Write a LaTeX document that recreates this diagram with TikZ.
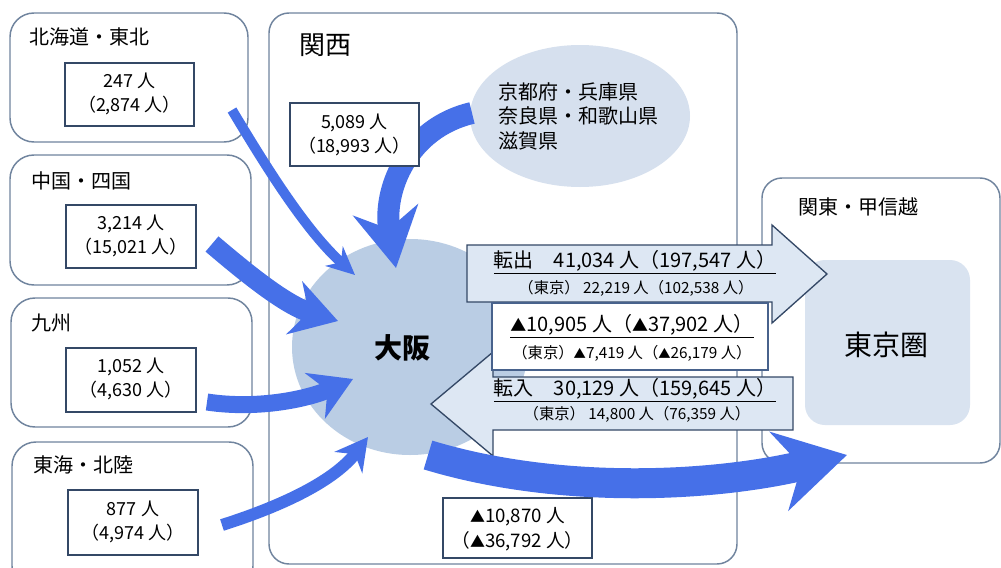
\documentclass[tikz,border=0pt]{standalone}
\usepackage{fontspec}
\setmainfont{Noto Sans CJK JP}
\usetikzlibrary{arrows.meta}

\definecolor{flowblue}{RGB}{70,112,232}
\definecolor{regionline}{RGB}{112,132,158}
\definecolor{boxline}{RGB}{52,72,102}
\definecolor{osakafill}{RGB}{186,205,228}
\definecolor{kyotofill}{RGB}{214,224,238}
\definecolor{tokyofill}{RGB}{217,227,240}
\definecolor{movefill}{RGB}{221,231,243}
\definecolor{netline}{RGB}{72,98,140}

\newcommand{\minusmark}{\scalebox{0.8}{▲}}

\tikzset{every picture/.style={line width=0.75pt}}
\tikzset{
  region/.style={draw=regionline, line width=1.1pt, fill=white, rounded corners=18pt},
  numbox/.style={draw=boxline, line width=1.5pt, fill=white},
  numtext/.style={inner sep=0.75pt, align=center, font=\fontsize{13.5}{18}\selectfont},
  labeltext/.style={anchor=west, inner sep=0.75pt, font=\fontsize{15}{18}\selectfont},
  flow/.style n args={3}{draw=flowblue, line width=#1, -{Stealth[length=#2, width=#3]}},
  movearrow/.style={draw=boxline, line width=1pt, fill=movefill},
  maintext/.style={inner sep=0.75pt, font=\fontsize{15}{18}\selectfont},
  subtext/.style={inner sep=0.75pt, font=\fontsize{11.5}{14}\selectfont},
}

\begin{document}
\begin{tikzpicture}[x=0.75pt,y=0.75pt,yscale=-1,xscale=1]
\path[use as bounding box] (0,0) rectangle (1001,568);

%Shape: Rounded Rect (regions)
\draw [region] (10,13) rectangle (248,142);
\draw [region] (10,155) rectangle (251,285);
\draw [region] (11,298) rectangle (252,427);
\draw [region] (12,442) rectangle (253,590);
\draw [region, rounded corners=15pt] (269,13) rectangle (737,564);
\draw [region, rounded corners=15pt] (762,178) rectangle (1000,463);

%Shape: Ellipse / blobs
\fill [kyotofill] (580,116) ellipse [x radius=110, y radius=71];
\fill [osakafill] (410,347) ellipse [x radius=118, y radius=108];
\fill [tokyofill, rounded corners=15pt] (805,260) rectangle (970,425);

%Named ends of the flows
\coordinate (hkout) at (232,110);
\coordinate (hkin) at (355,275);
\coordinate (csout) at (212,244);
\coordinate (csin) at (338,321);
\coordinate (kyout) at (207,402);
\coordinate (kyin) at (353,379);
\coordinate (tkout) at (222,525);
\coordinate (tkin) at (368,437);
\coordinate (ksout) at (472,113);
\coordinate (ksin) at (396,268);
\coordinate (osout) at (428,455);
\coordinate (tkyin) at (847,455);

%Curve Lines (flows into Osaka)
\draw [flow={7.5pt}{21pt}{19.5pt}] (hkout) .. controls (265,165) and (305,230) .. (hkin);
\draw [flow={15pt}{34pt}{41pt}] (csout) .. controls (245,272) and (285,305) .. (csin);
\draw [flow={12.75pt}{31pt}{37pt}] (kyout) .. controls (260,410) and (310,398) .. (kyin);
\draw [flow={9pt}{24pt}{26pt}] (tkout) .. controls (285,505) and (335,480) .. (tkin);
\draw [flow={16.5pt}{44pt}{49pt}] (ksout) .. controls (408,128) and (382,190) .. (ksin);

%Shape: Rectangle (number boxes)
\draw [numbox] (65,63) rectangle (194,126);
\draw [numbox] (66,205) rectangle (196,268);
\draw [numbox] (66,348) rectangle (196,412);
\draw [numbox] (68,490) rectangle (198,555);
\draw [numbox] (290,103) rectangle (419,166);
\draw [numbox] (443,498) rectangle (592,558);

%Shape: Left Arrow (in-moves)
\draw [movearrow] (793,377) -- (493,377) -- (493,352) -- (431,404) -- (493,456) -- (493,430) -- (793,430) -- cycle;
%Shape: Right Arrow (out-moves)
\draw [movearrow] (467,245) -- (772,245) -- (772,225) -- (827,274) -- (772,323) -- (772,302) -- (467,302) -- cycle;
%Shape: Rectangle (net)
\draw [draw=netline, line width=2pt, fill=white] (492,303) rectangle (768,370);

%Curve Lines (Osaka to Tokyo)
\draw [flow={22.5pt}{52pt}{60pt}] (osout) .. controls (560,495) and (713,487) .. (tkyin);

% Text Node
\draw (28,37) node (hklabel) [labeltext] {北海道・東北};
% Text Node
\draw (30,181) node (cslabel) [labeltext] {中国・四国};
% Text Node
\draw (30,323) node (kylabel) [labeltext] {九州};
% Text Node
\draw (32,465) node (tklabel) [labeltext] {東海・北陸};
% Text Node
\draw (298,45) node (kslabel) [labeltext, font=\fontsize{19.5}{22}\selectfont] {関西};
% Text Node
\draw (797,207) node (ktlabel) [labeltext] {関東・甲信越};
% Text Node
\draw (497,116) node (kyototext) [labeltext, align=left, font=\fontsize{15}{18.4}\selectfont] {京都府・兵庫県\\奈良県・和歌山県\\滋賀県};
% Text Node
\draw (402,348) node (osaka) [inner sep=0.75pt, font=\fontsize{21}{24}\selectfont\bfseries] {大阪};
% Text Node
\draw (886,345) node (tokyo) [inner sep=0.75pt, font=\fontsize{21}{24}\selectfont] {東京圏};

% Text Node
\draw (129.5,94) node (hknum) [numtext] {247 人\\（2,874 人）};
% Text Node
\draw (131,236) node (csnum) [numtext] {3,214 人\\（15,021 人）};
% Text Node
\draw (131,379) node (kynum) [numtext] {1,052 人\\（4,630 人）};
% Text Node
\draw (133,522) node (tknum) [numtext] {877 人\\（4,974 人）};
% Text Node
\draw (354.5,135) node (ksnum) [numtext] {5,089 人\\（18,993 人）};
% Text Node
\draw (517.5,529) node (osnum) [numtext, font=\fontsize{14}{19}\selectfont] {\minusmark10,870 人\\（\minusmark36,792 人）};

% Text Node
\draw (635,262) node (outmain) [maintext] {\underline{転出　41,034 人（197,547 人）}};
% Text Node
\draw (636,288) node (outsub) [subtext] {（東京）\ 22,219 人（102,538 人）};
% Text Node
\draw (632,326) node (netmain) [maintext] {\underline{\minusmark10,905 人（\minusmark37,902 人）}};
% Text Node
\draw (632,353) node (netsub) [subtext] {（東京）\minusmark7,419 人（\minusmark26,179 人）};
% Text Node
\draw (635,390) node (inmain) [maintext] {\underline{転入　30,129 人（159,645 人）}};
% Text Node
\draw (637,414) node (insub) [subtext] {（東京）\ 14,800 人（76,359 人）};

\end{tikzpicture}
\end{document}
